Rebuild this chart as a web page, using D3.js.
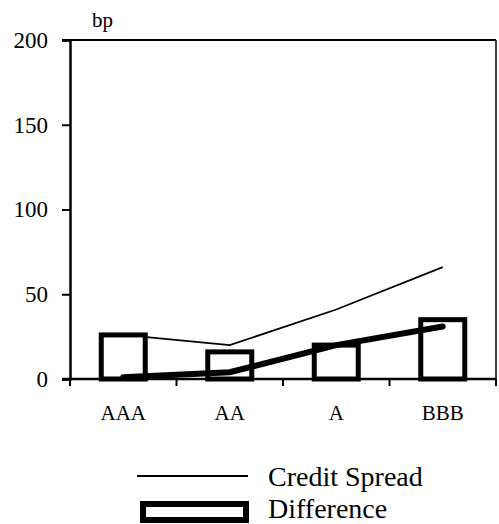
<!DOCTYPE html>
<html><head><meta charset="utf-8">
<script src="https://cdn.jsdelivr.net/npm/d3@7"></script>
<style>body{margin:0;background:#fff;} svg, svg text {font-family:"Liberation Serif";}</style>
</head><body>
<svg id="c" width="499" height="524" font-family="Liberation Serif"></svg>
<script>
const categories = ["AAA", "AA", "A", "BBB"];
const creditSpread = [26, 20, 41, 66];
const difference = [26, 16, 20, 35];
const thickSeries = [1, 4, 20, 31];
const yTicks = [0, 50, 100, 150, 200];
const legendLabels = ["Credit Spread", "Difference"];

const svg = d3.select("#c");
const L = 70, R = 496, T = 40, B = 379;
const x = d3.scaleBand().domain(categories).range([L, R]).padding(0);
const y = d3.scaleLinear().domain([0, 200]).range([B, T]);
const cx = d => x(d) + x.bandwidth() / 2;
const barW = 44;

function serif(sel, size) {
  sel.attr("font-family", "Liberation Serif").style("font-family", '"Liberation Serif"')
     .style("font-size", size + "px").attr("fill", "#000");
}

// frame
svg.append("line").attr("x1", L - 8).attr("x2", R).attr("y1", T).attr("y2", T).attr("stroke", "#000").attr("stroke-width", 2);
svg.append("line").attr("x1", R).attr("x2", R).attr("y1", T).attr("y2", B).attr("stroke", "#000").attr("stroke-width", 1.5);

// y axis
const ya = svg.append("g").attr("transform", `translate(${L},0)`)
  .call(d3.axisLeft(y).tickValues(yTicks).tickSize(8).tickPadding(14));
ya.attr("font-family", null).attr("font-size", null);
ya.select(".domain").attr("stroke-width", 2.5);
ya.selectAll(".tick line").attr("stroke-width", 2);
serif(ya.selectAll("text"), 23);

// x axis
const xa = svg.append("g").attr("transform", `translate(0,${B})`)
  .call(d3.axisBottom(x).tickSize(0).tickPadding(26));
xa.attr("font-family", null).attr("font-size", null);
xa.select(".domain").remove();
serif(xa.selectAll("text"), 21);
svg.append("line").attr("x1", L - 8).attr("x2", R).attr("y1", B).attr("y2", B).attr("stroke", "#000").attr("stroke-width", 2.5);
const bounds = categories.map(c => x(c)).concat([R]);
svg.selectAll(".xt").data(bounds).enter().append("line")
  .attr("x1", d => d).attr("x2", d => d).attr("y1", B).attr("y2", B + 7)
  .attr("stroke", "#000").attr("stroke-width", 2);

// thin line
const line = d3.line().x((d, i) => cx(categories[i])).y(d => y(d));
svg.append("path").datum(creditSpread).attr("d", line).attr("fill", "none").attr("stroke", "#000").attr("stroke-width", 1.8);

// bars
svg.selectAll(".bar").data(difference).enter().append("rect")
  .attr("x", (d, i) => cx(categories[i]) - barW / 2)
  .attr("width", barW)
  .attr("y", d => y(d))
  .attr("height", d => y(0) - y(d))
  .attr("fill", "#fff").attr("stroke", "#000").attr("stroke-width", 5);

// thick line
svg.append("path").datum(thickSeries).attr("d", line).attr("fill", "none").attr("stroke", "#000").attr("stroke-width", 6).attr("stroke-linecap", "round");

// unit label
serif(svg.append("text").attr("x", 92).attr("y", 27).text("bp"), 21);

// legend
svg.append("line").attr("x1", 137).attr("x2", 248).attr("y1", 476).attr("y2", 476).attr("stroke", "#000").attr("stroke-width", 1.8);
svg.append("rect").attr("x", 143).attr("y", 504).attr("width", 103).attr("height", 16).attr("fill", "#fff").attr("stroke", "#000").attr("stroke-width", 6);
serif(svg.append("text").attr("x", 268).attr("y", 486).text(legendLabels[0]), 28);
serif(svg.append("text").attr("x", 268).attr("y", 518).text(legendLabels[1]), 28);
</script>
</body></html>
